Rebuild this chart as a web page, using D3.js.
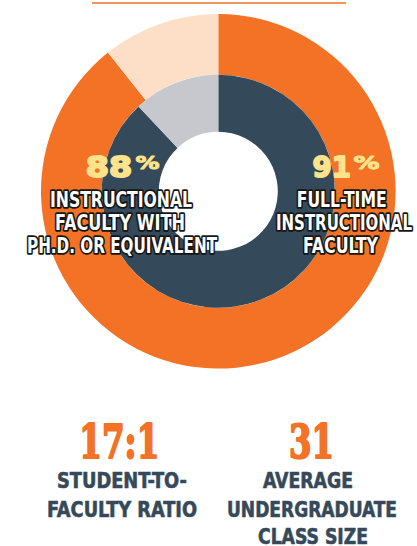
<!DOCTYPE html>
<html><head><meta charset="utf-8">
<script src="https://cdn.jsdelivr.net/npm/d3@7"></script>
<style>
html,body{margin:0;padding:0;background:#fff;}
svg{display:block;}
</style></head>
<body>
<svg id="chart" width="417" height="546"></svg>
<script>
// ---- data ----
const outerCategories = ["Full-time instructional faculty", "Other"];
const outerValues = [89.3, 10.7];
const innerCategories = ["Ph.D. or equivalent", "Other"];
const innerValues = [88, 12];
const leftNumber = "88", rightNumber = "91";
const leftLabel = ["INSTRUCTIONAL", "FACULTY WITH", "PH.D. OR EQUIVALENT"];
const rightLabel = ["FULL-TIME", "INSTRUCTIONAL", "FACULTY"];
const statValues = ["17:1", "31"];
const statLabels = [["STUDENT-TO-", "FACULTY RATIO"], ["AVERAGE", "UNDERGRADUATE", "CLASS SIZE"]];

const svg = d3.select("#chart");
const cx = 218.3, cy = 191.3;
const rOuter = 177.3, rMid = 116.5, rInner = 59.5;
const outerColors = d3.scaleOrdinal().domain(outerCategories).range(["#f37225", "#fddfc8"]);
const innerColors = d3.scaleOrdinal().domain(innerCategories).range(["#344a5a", "#c6c8cd"]);

// top rule
svg.append("line").attr("x1", 92).attr("x2", 346).attr("y1", 3).attr("y2", 3)
  .attr("stroke", "#f37225").attr("stroke-width", 1.3);

const pie = d3.pie().sort(null).value(d => d.v);
const g = svg.append("g").attr("transform", `translate(${cx},${cy})`);

const outerArc = d3.arc().innerRadius(rMid).outerRadius(rOuter);
g.selectAll("path.outer").data(pie(outerCategories.map((c, i) => ({c, v: outerValues[i]}))))
  .join("path").attr("class", "outer").attr("d", outerArc)
  .attr("fill", d => outerColors(d.data.c));

const innerArc = d3.arc().innerRadius(rInner).outerRadius(rMid);
g.selectAll("path.inner").data(pie(innerCategories.map((c, i) => ({c, v: innerValues[i]}))))
  .join("path").attr("class", "inner").attr("d", innerArc)
  .attr("fill", d => innerColors(d.data.c));

// big percentages
function pct(num, x0, w0, px, pw) {
  svg.append("text").text(num).attr("x", x0 + 0.8).attr("y", 176.5)
    .attr("font-family", "DejaVu Sans").attr("font-weight", "bold").attr("font-size", 28)
    .attr("textLength", w0 - 1.6).attr("lengthAdjust", "spacingAndGlyphs").attr("fill", "#fee38b")
    .attr("stroke", "#fee38b").attr("stroke-width", 1.8).attr("stroke-linejoin", "round");
  svg.append("text").text("%").attr("x", px + 0.5).attr("y", 168.8)
    .attr("font-family", "DejaVu Sans").attr("font-weight", "bold").attr("font-size", 18.5)
    .attr("textLength", pw - 1).attr("lengthAdjust", "spacingAndGlyphs").attr("fill", "#fee38b")
    .attr("stroke", "#fee38b").attr("stroke-width", 1).attr("stroke-linejoin", "round");
}
pct(leftNumber, 85, 48, 135, 25);
pct(rightNumber, 311.7, 40, 353, 27);

// outlined labels
function outlined(lines, specs) {
  lines.forEach((t, i) => {
    const s = specs[i];
    svg.append("text").text(t).attr("x", s[0]).attr("y", s[2])
      .attr("font-family", "'DejaVu Sans Condensed', 'DejaVu Sans'").attr("font-weight", "bold")
      .attr("font-size", 20.5).attr("textLength", s[1] - s[0]).attr("lengthAdjust", "spacingAndGlyphs")
      .attr("fill", "#fff").attr("stroke", "#151515").attr("stroke-width", 3.6)
      .attr("stroke-linejoin", "round").attr("paint-order", "stroke");
  });
}
outlined(leftLabel, [[50, 192, 206.5], [55, 185, 229.5], [27, 217, 252.5]]);
outlined(rightLabel, [[296.7, 386.7, 206.5], [276, 412, 229.5], [303, 378, 252.5]]);

// bottom stats
function stat(v, x0, w, lines, specs) {
  svg.append("text").text(v).attr("x", x0 + 1).attr("y", 457.5)
    .attr("font-family", "'DejaVu Serif'").attr("font-weight", "bold").attr("font-size", 47)
    .attr("textLength", w - 2).attr("lengthAdjust", "spacingAndGlyphs").attr("fill", "#f37225")
    .attr("stroke", "#f37225").attr("stroke-width", 2.2).attr("stroke-linejoin", "round");
  lines.forEach((t, i) => {
    const s = specs[i];
    svg.append("text").text(t).attr("x", s[0]).attr("y", s[2])
      .attr("font-family", "'DejaVu Sans Condensed', 'DejaVu Sans'").attr("font-weight", "bold")
      .attr("font-size", 22).attr("textLength", s[1] - s[0]).attr("lengthAdjust", "spacingAndGlyphs")
      .attr("fill", "#35495a").attr("stroke", "#35495a").attr("stroke-width", 0.6);
  });
}
stat(statValues[0], 78.3, 82, statLabels[0], [[57, 187, 488], [47, 197, 517]]);
stat(statValues[1], 288, 47, statLabels[1], [[263, 353, 488], [227, 397, 517], [258, 368, 544]]);
</script>
</body></html>
